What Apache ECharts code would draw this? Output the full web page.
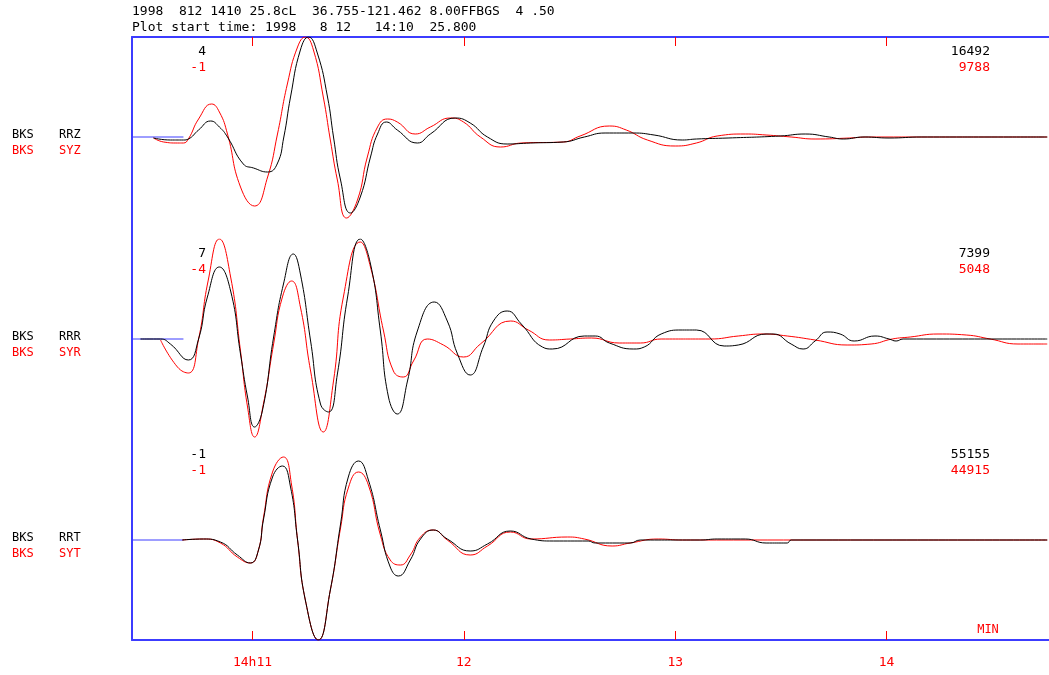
<!DOCTYPE html>
<html><head><meta charset="utf-8">
<script src="https://cdn.jsdelivr.net/npm/echarts@6/dist/echarts.min.js"></script>
<style>html,body{margin:0;padding:0;background:#fff}#c{width:1049px;height:675px}</style>
</head><body><div id="c"></div>
<script>
// time axis in seconds after 14:10:00
const plotStart = 25.8, plotEnd = 286.1;
const tickSeconds = [60, 120, 180, 240];
const tickLabels = ['14h11', '12', '13', '14'];
const headerLines = ['1998  812 1410 25.8cL  36.755-121.462 8.00FFBGS  4 .50',
                     'Plot start time: 1998   8 12   14:10  25.800'];
const obsNames = [['BKS', 'RRZ'], ['BKS', 'RRR'], ['BKS', 'RRT']];
const synNames = [['BKS', 'SYZ'], ['BKS', 'SYR'], ['BKS', 'SYT']];
const leftNums = [['4', '-1'], ['7', '-4'], ['-1', '-1']];
const rightNums = [['16492', '9788'], ['7399', '5048'], ['55155', '44915']];
const refSpan = [25.8, 40.4];

// Panel 1 (Z): observed (black) and synthetic (red), normalized amplitude
const rrzT = [31.9,36.7,40.4,41.8,44.7,48.1,50.6,52.9,57.4,60.3,64.3,67.0,68.9,70.8,73.6,75.9,78.4,81.3,83.0,85.0,87.8,90.6,93.5,95.5,98.0,101.1,106.8,110.5,117.6,121.8,126.7,132.3,138.9,148.2,154.2,160.1,168.1,174.0,182.0,186.0,195.0,209.8,216.9,223.7,227.7,233.6,240.7,250.0,285.6];
const rrzA = [-0.01,-0.03,-0.03,-0.02,0.07,0.16,0.10,0.00,-0.27,-0.31,-0.35,-0.27,0.00,0.40,0.87,1.00,0.84,0.40,0.00,-0.43,-0.76,-0.60,-0.20,0.03,0.15,0.07,-0.06,0.03,0.19,0.14,0.00,-0.07,-0.06,-0.05,0.00,0.04,0.04,0.02,-0.03,-0.02,-0.01,0.01,0.03,0.00,-0.02,0.00,-0.01,0.00,0.00];
const syzT = [31.9,34.8,38.7,40.4,41.8,44.7,48.4,50.6,52.9,56.6,60.6,64.3,67.1,69.9,72.8,75.0,77.3,80.1,82.1,84.1,86.7,89.8,92.6,95.5,98.3,101.1,106.2,110.5,116.2,119.9,124.7,130.4,136.3,148.2,153.0,161.3,166.1,172.1,180.0,186.0,191.9,199.9,205.8,212.9,219.7,229.6,234.8,285.6];
const syzA = [-0.01,-0.05,-0.06,-0.06,-0.02,0.18,0.33,0.25,0.03,-0.50,-0.69,-0.40,0.03,0.53,0.90,1.00,0.87,0.40,-0.03,-0.43,-0.81,-0.63,-0.20,0.10,0.18,0.15,0.03,0.10,0.19,0.15,0.00,-0.10,-0.06,-0.05,0.01,0.11,0.07,-0.03,-0.09,-0.06,0.01,0.03,0.02,0.00,-0.02,-0.01,0.00,0.00];

// Panel 2 (R)
const rrrT = [28.2,33.9,36.7,41.8,44.7,47.2,50.6,53.8,56.6,58.6,60.6,62.8,66.0,68.8,71.6,73.6,76.5,79.3,81.6,84.1,87.0,90.6,93.5,96.3,98.6,101.1,104.0,106.8,111.6,115.3,118.2,121.8,125.5,128.4,132.3,136.3,142.3,145.1,154.2,157.3,161.3,168.1,171.2,176.0,182.0,186.0,193.9,197.9,205.8,207.8,212.9,216.3,219.7,223.1,226.8,230.8,236.7,240.7,242.7,244.7,285.6];
const rrrA = [0.00,0.00,-0.05,-0.21,0.00,0.42,0.72,0.48,-0.15,-0.58,-0.88,-0.72,0.02,0.55,0.85,0.65,-0.02,-0.65,-0.73,-0.35,0.42,1.00,0.75,0.08,-0.58,-0.75,-0.42,0.08,0.37,0.18,-0.15,-0.36,-0.08,0.18,0.28,0.15,-0.08,-0.10,0.03,0.03,-0.04,-0.10,-0.08,0.05,0.09,0.09,-0.07,-0.06,0.05,0.05,-0.05,-0.10,-0.02,0.07,0.05,-0.02,0.03,0.00,-0.02,0.00,0.00];
const syrT = [33.9,38.7,41.8,44.7,47.4,50.6,53.8,56.6,58.6,60.6,63.1,66.0,68.5,71.1,73.6,76.5,80.1,83.0,85.8,90.6,93.5,97.2,100.0,102.8,105.7,109.6,114.2,119.9,124.7,133.3,138.3,144.3,150.2,156.2,164.1,170.1,176.0,189.9,197.9,205.0,211.8,219.7,228.8,235.6,241.6,246.7,254.6,262.6,269.4,277.3,285.6];
const syrA = [-0.01,-0.28,-0.34,0.00,0.58,1.00,0.62,-0.12,-0.68,-0.98,-0.65,-0.05,0.42,0.58,0.32,-0.32,-0.93,-0.42,0.42,0.97,0.72,0.08,-0.32,-0.38,-0.22,0.00,-0.06,-0.18,-0.05,0.18,0.09,-0.01,0.00,0.01,-0.04,-0.04,0.00,0.00,0.03,0.05,0.03,-0.01,-0.06,-0.05,0.00,0.02,0.05,0.04,0.00,-0.05,-0.05];

// Panel 3 (T)
const rrtT = [40.1,46.1,50.9,55.7,59.4,61.7,63.1,65.7,68.5,70.8,72.8,75.0,78.7,82.1,85.0,87.2,90.1,92.9,96.3,99.1,101.4,104.8,107.7,111.3,115.3,121.8,126.7,133.2,139.1,145.4,155.3,157.3,167.2,170.1,187.1,191.9,199.9,205.8,211.8,212.9,285.6];
const rrtA = [0.00,0.01,-0.02,-0.15,-0.23,-0.10,0.20,0.63,0.74,0.53,0.00,-0.60,-1.00,-0.50,0.16,0.63,0.79,0.60,0.10,-0.27,-0.36,-0.20,0.01,0.10,0.01,-0.11,-0.04,0.09,0.01,-0.01,-0.01,-0.03,-0.03,0.00,0.00,0.01,0.01,-0.03,-0.03,0.00,0.00];
const sytT = [40.1,46.1,50.9,55.7,59.4,61.7,63.1,65.7,68.8,71.1,72.8,75.0,78.7,82.1,85.0,87.2,90.1,92.9,96.3,99.1,102.0,104.8,107.7,111.3,115.3,121.8,126.7,133.2,139.1,149.4,154.2,162.1,167.2,175.2,182.0,285.6];
const sytA = [0.00,0.01,-0.03,-0.17,-0.23,-0.10,0.22,0.68,0.83,0.55,0.00,-0.60,-1.00,-0.50,0.12,0.52,0.68,0.55,0.05,-0.20,-0.25,-0.15,0.03,0.10,0.00,-0.15,-0.06,0.08,0.01,0.03,0.01,-0.06,-0.03,0.01,0.00,0.00];

const obsT = [rrzT, rrrT, rrtT], obsA = [rrzA, rrrA, rrtA];
const synT = [syzT, syrT, sytT], synA = [syzA, syrA, sytA];

const BLUE = '#3c3cff', RED = '#ff0000', BLACK = '#000000';
const MONO = '"DejaVu Sans Mono", "Liberation Mono", monospace';
const zip = (t, a) => t.map((v, i) => [v, a[i]]);

const panelTops = [37, 239, 440];
const grids = [{left: 132, top: 37, width: 917, height: 603}];
panelTops.forEach(t => grids.push({left: 132, top: t, width: 917, height: 200}));

const xAxes = [
  {gridIndex: 0, type: 'value', position: 'bottom', min: plotStart, max: plotEnd,
   axisLine: {show: true, lineStyle: {color: BLUE, width: 2}},
   axisTick: {show: true, inside: true, length: 9, customValues: tickSeconds, lineStyle: {color: RED, width: 1}},
   axisLabel: {show: true, customValues: tickSeconds, margin: 16, color: RED, fontFamily: MONO, fontSize: 13,
     formatter: v => { const i = tickSeconds.indexOf(v); return i >= 0 ? tickLabels[i] : ''; }},
   splitLine: {show: false}},
  {gridIndex: 0, type: 'value', position: 'top', min: plotStart, max: plotEnd,
   axisLine: {show: true, lineStyle: {color: BLUE, width: 2}},
   axisTick: {show: true, inside: true, length: 9, customValues: tickSeconds, lineStyle: {color: RED, width: 1}},
   axisLabel: {show: false}, splitLine: {show: false}}
];
const yAxes = [
  {gridIndex: 0, type: 'value', min: 0, max: 1, position: 'left',
   axisLine: {show: true, lineStyle: {color: BLUE, width: 2}},
   axisTick: {show: false}, axisLabel: {show: false}, splitLine: {show: false}}
];
const series = [];
for (let p = 0; p < 3; p++) {
  xAxes.push({gridIndex: p + 1, type: 'value', min: plotStart, max: plotEnd, show: false});
  yAxes.push({gridIndex: p + 1, type: 'value', min: -1, max: 1, show: false});
  series.push({type: 'line', xAxisIndex: p + 2, yAxisIndex: p + 1, data: refSpan.map(v => [v, 0]),
    showSymbol: false, silent: true, lineStyle: {color: BLUE, width: 1}, clip: false});
  series.push({type: 'line', xAxisIndex: p + 2, yAxisIndex: p + 1, data: zip(synT[p], synA[p]),
    showSymbol: false, smooth: 0.5, lineStyle: {color: RED, width: 1}, clip: true});
  series.push({type: 'line', xAxisIndex: p + 2, yAxisIndex: p + 1, data: zip(obsT[p], obsA[p]),
    showSymbol: false, smooth: 0.5, lineStyle: {color: BLACK, width: 1}, clip: true});
}

const txt = (text, x, y, color, align, size) => ({type: 'text', silent: true,
  style: {text, x, y, fill: color, font: (size || 13) + 'px ' + MONO,
    textAlign: align || 'left', align: align || 'left', textVerticalAlign: 'middle', verticalAlign: 'middle'}});
const graphics = [txt(headerLines[0], 132, 12, BLACK), txt(headerLines[1], 132, 28, BLACK)];
const baseY = [137, 339, 540];
for (let p = 0; p < 3; p++) {
  const b = baseY[p];
  graphics.push(txt(obsNames[p][0], 12, b - 2, BLACK, 'left', 12));
  graphics.push(txt(obsNames[p][1], 59, b - 2, BLACK, 'left', 12));
  graphics.push(txt(synNames[p][0], 12, b + 14, RED, 'left', 12));
  graphics.push(txt(synNames[p][1], 59, b + 14, RED, 'left', 12));
  const nt = panelTops[p];
  graphics.push(txt(leftNums[p][0], 206, nt + 15, BLACK, 'right'));
  graphics.push(txt(leftNums[p][1], 206, nt + 31, RED, 'right'));
  graphics.push(txt(rightNums[p][0], 990, nt + 15, BLACK, 'right'));
  graphics.push(txt(rightNums[p][1], 990, nt + 31, RED, 'right'));
}
graphics.push(txt('MIN', 988, 630, RED, 'center', 12));

const chart = echarts.init(document.getElementById('c'), null, {renderer: 'canvas'});
chart.setOption({animation: false, backgroundColor: '#ffffff', grid: grids, xAxis: xAxes, yAxis: yAxes,
  series, graphic: graphics});
</script></body></html>
